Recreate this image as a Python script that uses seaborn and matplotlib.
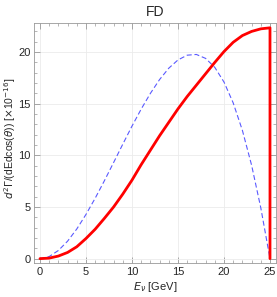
"""
Differential decay rate vs neutrino energy (FD panel).
"""

import pandas as pd
import matplotlib
matplotlib.use("Agg")
import matplotlib.pyplot as plt
from matplotlib.ticker import MultipleLocator
import seaborn as sns

# Values
energy = list(range(26))
red_rate = [0.0, 0.05, 0.25, 0.6, 1.15, 1.95, 2.85, 3.9, 5.0, 6.25, 7.6,
            9.1, 10.5, 11.9, 13.2, 14.5, 15.7, 16.8, 17.9, 19.0, 20.05,
            20.95, 21.6, 22.0, 22.25, 22.35]
blue_rate = [0.0, 0.2, 0.79, 1.69, 2.87, 4.28, 5.85, 7.54, 9.30, 11.08, 12.83,
             14.48, 16.0, 17.34, 18.44, 19.24, 19.70, 19.77, 19.39, 18.52, 17.10,
             15.08, 12.42, 9.05, 4.92, 0.0]
# red curve drops vertically back to zero at the endpoint
red_x = energy + [25]
red_y = red_rate + [0.0]

TITLE = "FD"
XLABEL = r"$E_\nu$ [GeV]"
YLABEL = r"$d^2\Gamma$/(dEdcos($\theta$)) [$\times$10$^{-16}$]"

sns.set_style("ticks")
plt.rcParams["font.family"] = ["Liberation Sans", "DejaVu Sans"]
plt.rcParams["mathtext.fontset"] = "dejavusans"

red_df = pd.DataFrame({"E": red_x, "rate": red_y})
blue_df = pd.DataFrame({"E": energy, "rate": blue_rate})

fig = plt.figure(figsize=(2.77, 2.97), dpi=100)
ax = fig.add_axes([0.1227, 0.1135, 0.8736, 0.8085])

sns.lineplot(data=blue_df, x="E", y="rate", ax=ax, color="#5a5aff",
             linewidth=0.8, estimator=None, sort=False)
ax.lines[-1].set_dashes([4.5, 2.5])
sns.lineplot(data=red_df, x="E", y="rate", ax=ax, color="#ff0000",
             linewidth=2.0, estimator=None, sort=False)

ax.set_xlim(-0.65, 25.65)
ax.set_ylim(-0.45, 22.8)
ax.xaxis.set_major_locator(MultipleLocator(5))
ax.xaxis.set_minor_locator(MultipleLocator(1))
ax.yaxis.set_major_locator(MultipleLocator(5))
ax.yaxis.set_minor_locator(MultipleLocator(1))
ax.tick_params(which="both", direction="in", top=True, right=True,
               color="#999999", labelsize=8, pad=2.5)
ax.tick_params(which="major", length=4, width=0.6)
ax.tick_params(which="minor", length=2, width=0.5)
ax.grid(True, which="major", color="#ebebeb", linewidth=0.6)
ax.set_axisbelow(True)
for spine in ax.spines.values():
    spine.set_color("#999999")
    spine.set_linewidth(0.6)

ax.set_title(TITLE, fontsize=10, pad=5)
ax.set_xlabel(XLABEL, fontsize=8, labelpad=2)
ax.set_ylabel(YLABEL, fontsize=7.5)
ax.yaxis.set_label_coords(-0.065, 0.52)

fig.savefig("out.png", dpi=100)
